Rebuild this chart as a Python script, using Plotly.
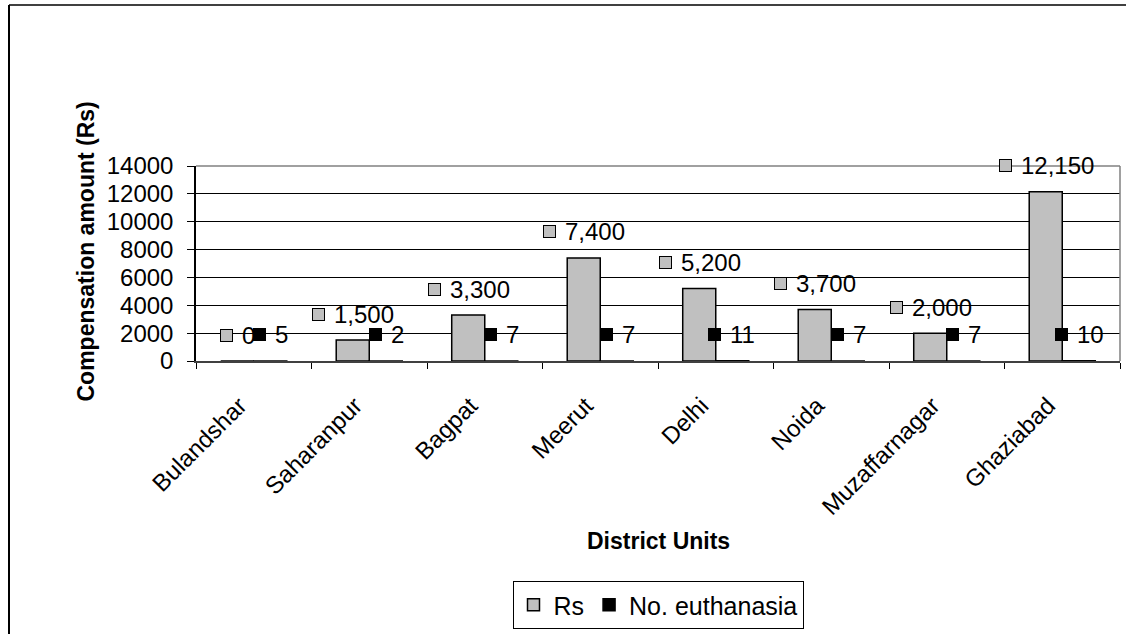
import plotly.graph_objects as go

# District-wise compensation paid and euthanasia counts
districts = ["Bulandshar", "Saharanpur", "Bagpat", "Meerut", "Delhi",
             "Noida", "Muzaffarnagar", "Ghaziabad"]
rs_amount = [0, 1500, 3300, 7400, 5200, 3700, 2000, 12150]
euthanasia = [5, 2, 7, 7, 11, 7, 7, 10]

y_ticks = [0, 2000, 4000, 6000, 8000, 10000, 12000, 14000]

GRAY = "#C0C0C0"
FONT = "Liberation Sans, Arial, sans-serif"

W, H = 1126, 634
M_L, M_R, M_T, M_B = 196, 6, 166, 273
PLOT_W = W - M_L - M_R
PLOT_H = H - M_T - M_B
BARGAP = 0.428
N = len(districts)
bar_w = PLOT_W / N * (1 - BARGAP) / 2     # pixel width of one bar

TICK_SIZE = 24
LABEL_SIZE = 24
KEY = 13            # legend-key square in data labels
KEY_GAP = 8
LIFT = 26           # label centre above the bar top, in px

fig = go.Figure()
fig.add_trace(go.Bar(name="Rs", x=districts, y=rs_amount,
                     marker=dict(color=GRAY, line=dict(color="black", width=1.5))))
fig.add_trace(go.Bar(name="No. euthanasia", x=districts, y=euthanasia,
                     marker=dict(color="black", line=dict(color="black", width=1.5))))


def text_width(s, size):
    widths = {",": 0.278, ".": 0.278}
    return sum(widths.get(ch, 0.556) for ch in s) * size


annotations = []
for values, color, side in ((rs_amount, GRAY, -1), (euthanasia, "black", 1)):
    for cat, v in zip(districts, values):
        txt = f"{v:,}"
        tw = text_width(txt, LABEL_SIZE)
        total = KEY + KEY_GAP + tw
        centre = side * bar_w / 2
        left = centre - total / 2
        annotations.append(dict(
            x=cat, y=v, xref="x", yref="y", text=" ", showarrow=False,
            width=KEY - 4, height=KEY - 4, borderpad=1, borderwidth=1,
            bgcolor=color, bordercolor="black", font=dict(size=6),
            xanchor="center", yanchor="middle",
            xshift=left + KEY / 2, yshift=LIFT))
        annotations.append(dict(
            x=cat, y=v, xref="x", yref="y", text=txt, showarrow=False,
            font=dict(family=FONT, size=LABEL_SIZE, color="black"),
            xanchor="left", yanchor="middle", borderpad=0,
            xshift=left + KEY + KEY_GAP, yshift=LIFT))

# axis titles
annotations.append(dict(
    text="<b>Compensation amount (Rs)</b>", xref="paper", yref="paper",
    x=0, y=0.5, xshift=-111, yshift=12, textangle=-90, showarrow=False,
    font=dict(family=FONT, size=23, color="black"),
    xanchor="center", yanchor="middle"))
annotations.append(dict(
    text="<b>District Units</b>", xref="paper", yref="paper",
    x=0.5, y=0, yshift=-180, showarrow=False,
    font=dict(family=FONT, size=23, color="black"),
    xanchor="center", yanchor="middle"))


def px_x(p):
    return (p - M_L) / PLOT_W


def px_y(p):
    return (H - M_B - p) / PLOT_H


shapes = [
    # plot-area frame (top and right edges)
    dict(type="line", xref="paper", yref="paper", x0=0, x1=1, y0=1, y1=1,
         line=dict(color="#808080", width=1.5), layer="above"),
    dict(type="line", xref="paper", yref="paper", x0=1, x1=1, y0=0, y1=1,
         line=dict(color="#808080", width=1.5), layer="above"),
    # chart-area frame
    dict(type="line", xref="paper", yref="paper", x0=px_x(9), x1=px_x(9),
         y0=px_y(5), y1=px_y(700), line=dict(color="black", width=2)),
    dict(type="line", xref="paper", yref="paper", x0=px_x(9), x1=px_x(1200),
         y0=px_y(5), y1=px_y(5), line=dict(color="black", width=1.5)),
]

fig.update_layout(
    width=W, height=H,
    margin=dict(l=M_L, r=M_R, t=M_T, b=M_B, autoexpand=False),
    paper_bgcolor="white", plot_bgcolor="white",
    barmode="group", bargap=BARGAP, bargroupgap=0,
    font=dict(family=FONT, size=TICK_SIZE, color="black"),
    showlegend=True,
    legend=dict(orientation="h", x=0.5, xanchor="center",
                y=px_y(581), yanchor="top",
                bordercolor="black", borderwidth=1, bgcolor="white",
                font=dict(family=FONT, size=25, color="black"),
                itemwidth=30, tracegroupgap=0),
    annotations=annotations,
    shapes=shapes,
)

fig.update_yaxes(
    range=[0, 14000], tickvals=y_ticks, ticktext=[str(t) for t in y_ticks],
    showgrid=True, gridcolor="black", gridwidth=1,
    showline=True, linecolor="black", linewidth=1.5,
    ticks="outside", ticklen=7, tickcolor="black", tickwidth=1,
    ticklabelstandoff=9, zeroline=False,
    tickfont=dict(family=FONT, size=TICK_SIZE, color="black"))

# rotated category labels; trailing no-break spaces pull each label's end
# slightly left of the category centre
fig.update_xaxes(
    type="category", tickangle=-45, tickson="boundaries",
    tickvals=districts, ticktext=[d + "\u00a0" * 3 for d in districts],
    showgrid=False, showline=True, linecolor="#404040", linewidth=2,
    ticks="outside", ticklen=6, tickcolor="black", tickwidth=1,
    ticklabelstandoff=5,
    tickfont=dict(family=FONT, size=TICK_SIZE, color="black"))

fig.write_html("out.html")
